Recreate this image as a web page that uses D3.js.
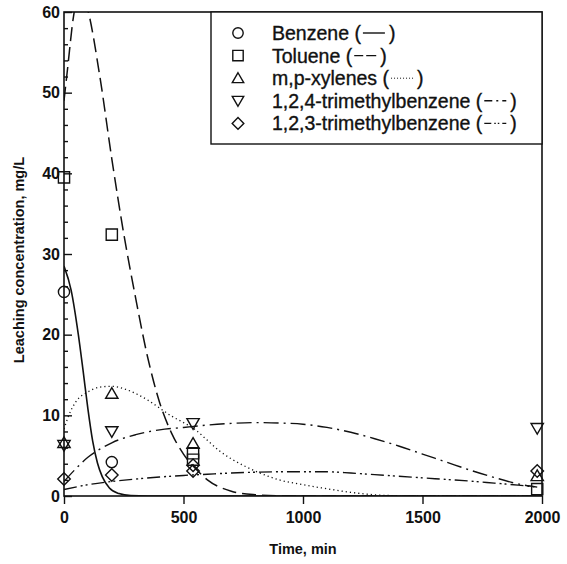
<!DOCTYPE html>
<html><head><meta charset="utf-8">
<script src="https://cdn.jsdelivr.net/npm/d3@7"></script>
<style>body{margin:0;background:#fff}svg{display:block}</style>
</head><body><svg id="c" width="567" height="564"></svg>
<script>
// ---------------- data ----------------
const seriesNames = ["Benzene", "Toluene", "m,p-xylenes", "1,2,4-trimethylbenzene", "1,2,3-trimethylbenzene"];
const seriesKeys = ["benzene", "toluene", "xylenes", "tmb124", "tmb123"];

const xTickValues = [0, 500, 1000, 1500, 2000];
const yTickValues = [0, 10, 20, 30, 40, 50, 60];
const yMinorTickValues = [2, 4, 6, 8, 12, 14, 16, 18, 22, 24, 26, 28, 32, 34, 36, 38, 42, 44, 46, 48, 52, 54, 56, 58];

// measured points [time, concentration]
const benzenePts = [[0, 25.3], [200, 4.2]];
const toluenePts = [[0, 39.5], [200, 32.4], [540, 5.3], [540, 4.5], [1980, 0.85]];
const xylenesPts = [[0, 6.6], [200, 12.7], [540, 6.5], [1980, 2.5]];
const tmb124Pts = [[0, 6.3], [200, 8.0], [540, 9.0], [1980, 8.4]];
const tmb123Pts = [[0, 2.1], [200, 2.6], [540, 3.8], [540, 3.1], [1980, 3.1]];

// model curves [time, concentration]
const benzeneFit = [[0, 28.5], [30, 25.5], [60, 20.0], [80, 15.5], [100, 10.8], [120, 6.8], [140, 4.1], [160, 2.4], [190, 1.0], [230, 0.3], [280, 0.05], [350, 0], [1000, 0], [2000, 0]];
const tolueneFit = [[0, 49], [15, 53], [40, 59.5], [70, 62.5], [100, 60.2], [150, 52], [200, 41.8], [250, 32.5], [300, 24.5], [350, 17.2], [400, 11.6], [450, 7.8], [500, 5.2], [550, 3.4], [600, 2.0], [700, 0.6], [800, 0.15], [900, 0.02], [1000, 0], [2000, 0]];
const xylenesFit = [[0, 8.3], [20, 10.0], [50, 11.7], [100, 12.9], [150, 13.5], [200, 13.6], [250, 13.3], [300, 12.7], [350, 11.9], [400, 10.9], [450, 9.9], [500, 9.1], [550, 8.2], [600, 6.9], [650, 5.6], [700, 4.6], [750, 3.8], [800, 3.1], [900, 2.0], [1000, 1.4], [1100, 0.9], [1200, 0.45], [1300, 0.15], [1400, 0.03], [1500, 0], [2000, 0]];
const tmb124Fit = [[0, 1.8], [50, 3.4], [100, 4.8], [150, 5.8], [200, 6.6], [300, 7.6], [400, 8.2], [500, 8.5], [600, 8.8], [700, 9.0], [800, 9.1], [900, 9.05], [1000, 8.9], [1100, 8.5], [1200, 7.9], [1300, 7.1], [1400, 6.2], [1500, 5.2], [1600, 4.2], [1700, 3.2], [1800, 2.3], [1900, 1.5], [1980, 1.1]];
const tmb123Fit = [[0, 0.8], [100, 1.4], [200, 1.8], [300, 2.1], [400, 2.35], [500, 2.55], [600, 2.7], [700, 2.85], [800, 2.95], [900, 3.0], [1000, 3.0], [1100, 3.0], [1200, 2.85], [1300, 2.65], [1400, 2.45], [1500, 2.25], [1600, 2.05], [1700, 1.85], [1800, 1.6], [1900, 1.35], [1980, 1.1]];

const xTitle = "Time, min";
const yTitle = "Leaching concentration, mg/L";

// ---------------- drawing ----------------
const svg = d3.select("#c");
const L = 64, R = 542, T = 12, B = 496;
const x = d3.scaleLinear().domain([0, 2000]).range([L, R]);
const y = d3.scaleLinear().domain([0, 60]).range([B, T]);

const FONT = "'Liberation Sans', Arial, Helvetica, sans-serif";

const styles = {
  benzene: {dash: null, width: 1.6},
  toluene: {dash: "14,6", width: 1.5},
  xylenes: {dash: "1.2,3", width: 1.3},
  tmb124: {dash: "15,5,2,5", width: 1.4},
  tmb123: {dash: "13,4,2,3,2,4", width: 1.4}
};
const markerOf = {benzene: "circle", toluene: "square", xylenes: "tri", tmb124: "itri", tmb123: "diamond"};

function markerPath(type, s) {
  const p = d3.path();
  if (type === "circle") { p.moveTo(s, 0); p.arc(0, 0, s, 0, 2 * Math.PI); }
  else if (type === "square") { p.rect(-s, -s, 2 * s, 2 * s); }
  else if (type === "tri") { p.moveTo(0, -s * 1.05); p.lineTo(s * 1.1, s * 0.85); p.lineTo(-s * 1.1, s * 0.85); p.closePath(); }
  else if (type === "itri") { p.moveTo(0, s * 1.05); p.lineTo(s * 1.1, -s * 0.85); p.lineTo(-s * 1.1, -s * 0.85); p.closePath(); }
  else if (type === "diamond") { const d = s * 1.12; p.moveTo(0, -d); p.lineTo(d, 0); p.lineTo(0, d); p.lineTo(-d, 0); p.closePath(); }
  return p.toString();
}

// clip
svg.append("defs").append("clipPath").attr("id", "clip")
  .append("rect").attr("x", L).attr("y", T).attr("width", R - L).attr("height", B - T);

// axes
const yAxis = d3.axisLeft(y).tickValues(yTickValues).tickSizeInner(-8).tickSizeOuter(0).tickPadding(4).tickFormat(d3.format("d"));
const gy = svg.append("g").attr("transform", `translate(${L},0)`).call(yAxis);
const yMinorAxis = d3.axisLeft(y).tickValues(yMinorTickValues).tickSizeInner(-4).tickSizeOuter(0).tickFormat("");
const gym = svg.append("g").attr("transform", `translate(${L},0)`).call(yMinorAxis);
const xAxis = d3.axisBottom(x).tickValues(xTickValues).tickSizeInner(8).tickSizeOuter(0).tickPadding(8).tickFormat(d3.format("d"));
const gx = svg.append("g").attr("transform", `translate(0,${B})`).call(xAxis);

[gy, gym, gx].forEach(g => {
  g.select(".domain").remove();
  g.selectAll(".tick line").attr("stroke", "#111").attr("stroke-width", 1.4);
  g.selectAll("text").attr("font-family", FONT).attr("font-size", 16).attr("font-weight", "bold").attr("fill", "#111");
});

// frame
svg.append("rect").attr("x", L).attr("y", T).attr("width", R - L).attr("height", B - T)
  .attr("fill", "none").attr("stroke", "#111").attr("stroke-width", 1.6);

// curves
const line = d3.line().x(d => x(d[0])).y(d => y(d[1])).curve(d3.curveMonotoneX);
const fits = {benzene: benzeneFit, toluene: tolueneFit, xylenes: xylenesFit, tmb124: tmb124Fit, tmb123: tmb123Fit};
const pts = {benzene: benzenePts, toluene: toluenePts, xylenes: xylenesPts, tmb124: tmb124Pts, tmb123: tmb123Pts};
const gc = svg.append("g").attr("clip-path", "url(#clip)");
seriesKeys.forEach(k => {
  gc.append("path").datum(fits[k]).attr("d", line)
    .attr("fill", "none").attr("stroke", "#111")
    .attr("stroke-width", styles[k].width)
    .attr("stroke-dasharray", styles[k].dash);
});

// markers
seriesKeys.forEach(k => {
  svg.append("g").selectAll("path").data(pts[k]).join("path")
    .attr("transform", d => `translate(${x(d[0])},${y(d[1])})`)
    .attr("d", markerPath(markerOf[k], 5.6))
    .attr("fill", "none").attr("stroke", "#111").attr("stroke-width", 1.4);
});

// axis titles
svg.append("text").attr("x", (L + R) / 2).attr("y", 554).attr("text-anchor", "middle")
  .attr("font-family", FONT).attr("font-size", 14.5).attr("font-weight", "bold").attr("fill", "#111").text(xTitle);
svg.append("text").attr("transform", `translate(24,${(T + B) / 2 + 6}) rotate(-90)`).attr("text-anchor", "middle")
  .attr("font-family", FONT).attr("font-size", 14.5).attr("font-weight", "bold").attr("fill", "#111").text(yTitle);

// legend
const lg = svg.append("g");
lg.append("rect").attr("x", 211).attr("y", T).attr("width", R - 211).attr("height", 132)
  .attr("fill", "#fff").attr("stroke", "#111").attr("stroke-width", 1.4);
const rowY = i => 33 + i * 22.6;
const LFS = 19.5;
seriesKeys.forEach((k, i) => {
  const cy = rowY(i);
  lg.append("path").attr("transform", `translate(238,${cy})`).attr("d", markerPath(markerOf[k], 5.2))
    .attr("fill", "none").attr("stroke", "#111").attr("stroke-width", 1.4);
  const t = lg.append("text").attr("x", 272).attr("y", cy + 7)
    .attr("font-family", FONT).attr("font-size", LFS).attr("fill", "#111")
    .attr("stroke", "#111").attr("stroke-width", 0.35)
    .text(seriesNames[i] + " (");
  const w = t.node().getComputedTextLength();
  const sx = 272 + w + 2;
  lg.append("line").attr("x1", sx).attr("x2", sx + 22).attr("y1", cy).attr("y2", cy)
    .attr("stroke", "#111").attr("stroke-width", k === "xylenes" ? 1 : 1.4)
    .attr("stroke-dasharray", k === "benzene" ? null : k === "toluene" ? "9,3,10" : k === "xylenes" ? "1,2" : k === "tmb124" ? "8,4,2,4,8" : "7,3,1.5,2,1.5,3,8");
  lg.append("text").attr("x", sx + 26).attr("y", cy + 7)
    .attr("font-family", FONT).attr("font-size", LFS).attr("fill", "#111")
    .attr("stroke", "#111").attr("stroke-width", 0.35).text(")");
});
</script></body></html>
